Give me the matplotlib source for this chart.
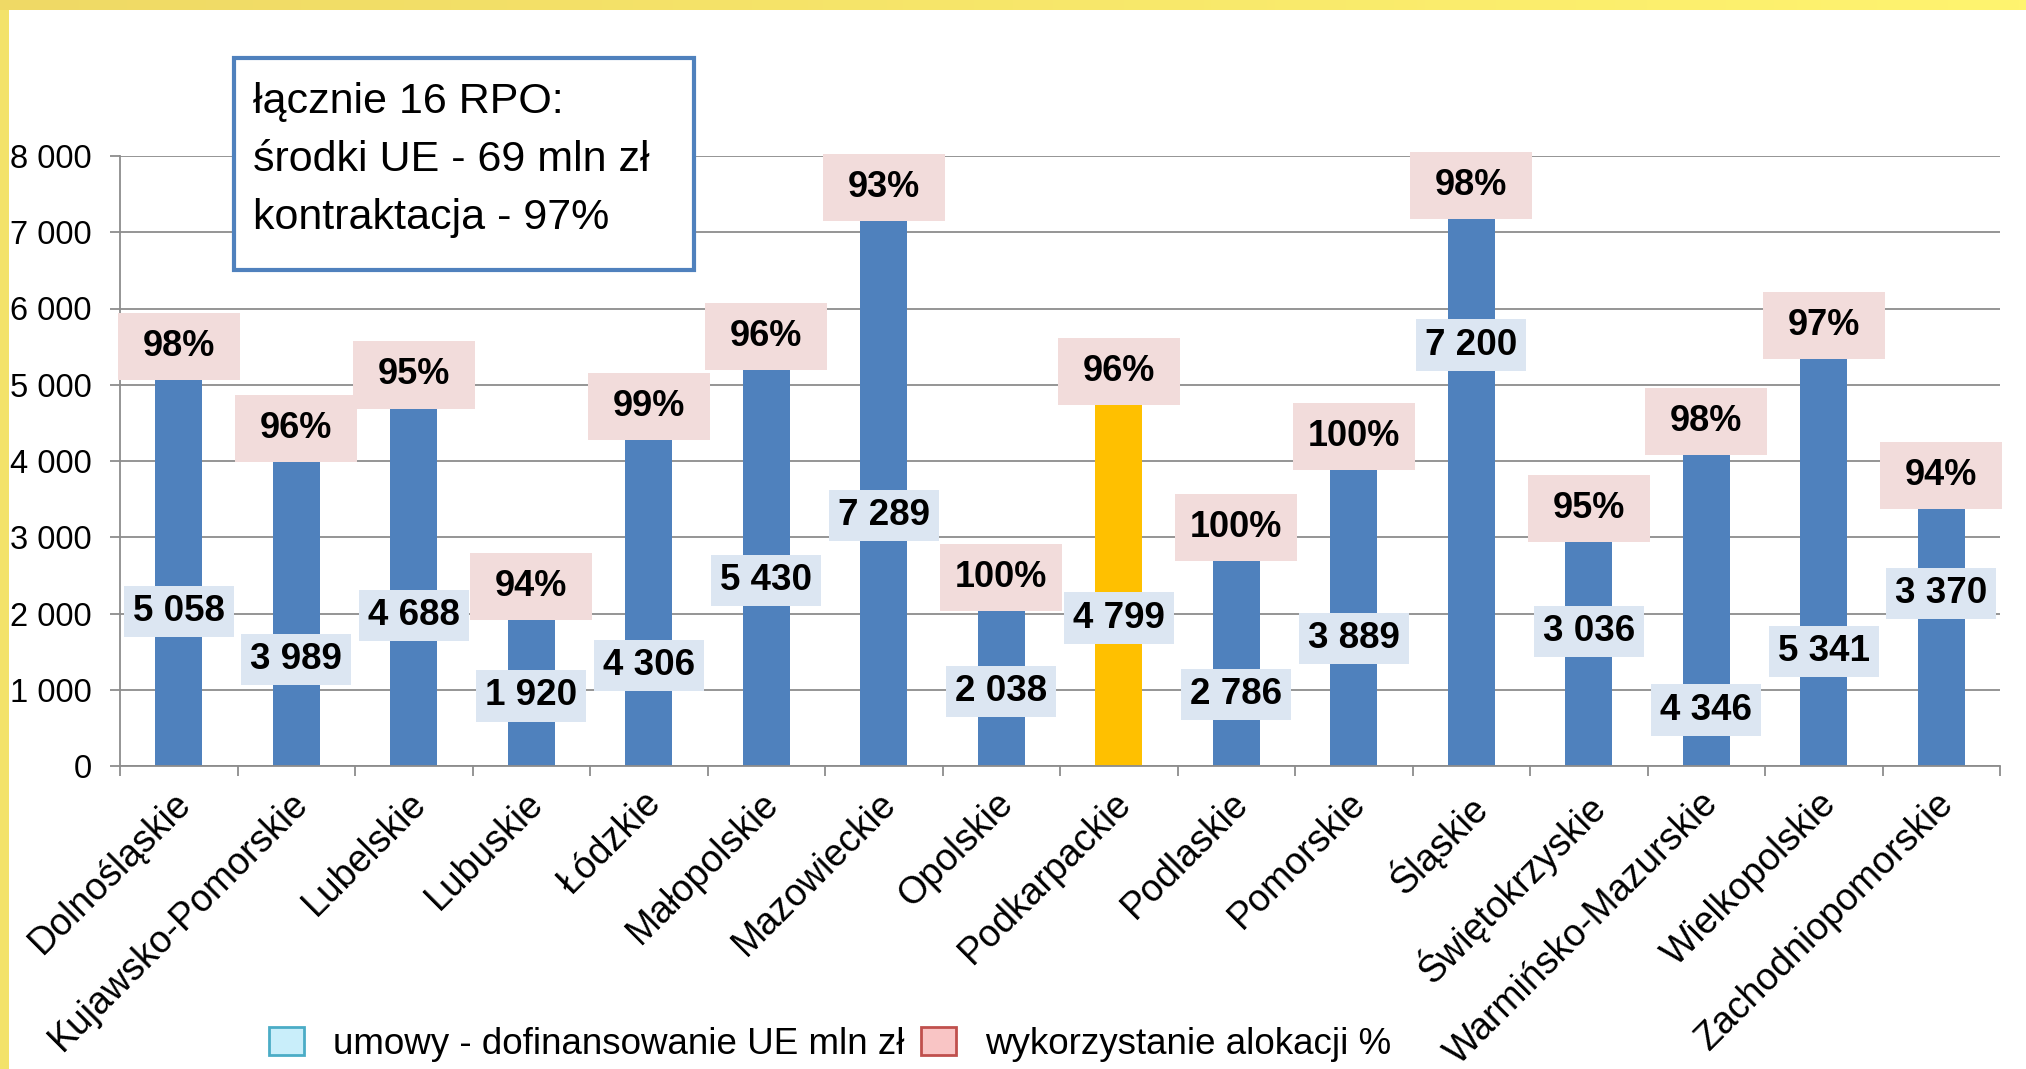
import numpy as np
import matplotlib
matplotlib.use("Agg")
import matplotlib.pyplot as plt
import matplotlib.transforms as mtransforms
from matplotlib.patches import Rectangle, Patch
from matplotlib.colors import LinearSegmentedColormap
from matplotlib.ticker import FuncFormatter

plt.rcParams['font.family'] = ['Liberation Sans', 'DejaVu Sans']

# --- data ---
regions = ["Dolnośląskie", "Kujawsko-Pomorskie", "Lubelskie", "Lubuskie", "Łódzkie",
           "Małopolskie", "Mazowieckie", "Opolskie", "Podkarpackie", "Podlaskie",
           "Pomorskie", "Śląskie", "Świętokrzyskie", "Warmińsko-Mazurskie",
           "Wielkopolskie", "Zachodniopomorskie"]

# bar heights as drawn on the chart (mln zł)
umowy = [5058, 3989, 4688, 1913, 4271, 5188, 7144, 2035, 4734, 2690,
         3887, 7170, 2937, 4079, 5342, 3368]

# value labels as typed on the chart
umowy_labels = ["5 058", "3 989", "4 688", "1 920", "4 306", "5 430", "7 289", "2 038",
                "4 799", "2 786", "3 889", "7 200", "3 036", "4 346", "5 341", "3 370"]

# wykorzystanie alokacji %
alokacja = [98, 96, 95, 94, 99, 96, 93, 100, 96, 100, 100, 98, 95, 98, 97, 94]

highlight = "Podkarpackie"

# where each value label sits, as a share of its bar height
label_pos = [0.40, 0.35, 0.42, 0.48, 0.31, 0.47, 0.46, 0.48, 0.41, 0.35,
             0.43, 0.77, 0.60, 0.18, 0.28, 0.67]

summary = ["łącznie 16 RPO:", "środki UE - 69 mln zł", "kontraktacja - 97%"]
legend_labels = ["umowy - dofinansowanie UE mln zł", "wykorzystanie alokacji %"]

# --- figure ---
W, H = 2026, 1069
fig = plt.figure(figsize=(W / 100, H / 100), dpi=100)
ax = fig.add_axes([120 / W, 1 - 766 / H, 1880 / W, 610 / H])

x = np.arange(len(regions))
colors = ['#FFC000' if r == highlight else '#4F81BD' for r in regions]
ax.bar(x, umowy, width=0.4, color=colors, zorder=2)

# pink boxes with percentages sitting on top of the bars
pct_h = 880
pct_boxes = ax.bar(x, pct_h, bottom=umowy, width=1.04, color='#F2DCDB', zorder=3)
for p in pct_boxes:
    p.set_clip_on(False)
for xi, top, a in zip(x, umowy, alokacja):
    ax.text(xi, top + pct_h / 2, f"{a}%", ha='center', va='center',
            fontsize=26, fontweight='bold', zorder=5, clip_on=False)

# light blue boxes with the contract values
lab_y = np.array(umowy) * np.array(label_pos)
val_h = 670
ax.bar(x, val_h, bottom=lab_y - val_h / 2, width=0.94, color='#DCE6F2', zorder=3)
for xi, yi, s in zip(x, lab_y, umowy_labels):
    ax.text(xi, yi, s, ha='center', va='center', fontsize=26.5, fontweight='bold', zorder=5)

# axes styling
grey = '#8C8C8C'
ax.set_xlim(-0.5, len(regions) - 0.5)
ax.set_ylim(0, 8000)
ax.set_yticks(range(0, 8001, 1000))
ax.yaxis.set_major_formatter(FuncFormatter(lambda v, p: f"{int(v):,}".replace(",", " ")))
ax.grid(axis='y', color=grey, lw=1.3)
ax.set_axisbelow(True)
for s in ['top', 'right']:
    ax.spines[s].set_visible(False)
for s in ['left', 'bottom']:
    ax.spines[s].set_color(grey)
    ax.spines[s].set_linewidth(1.3)
ax.tick_params(axis='y', length=7.2, width=1.3, color=grey, pad=13, labelsize=23.5)

ax.set_xticks(x)
ax.set_xticklabels(regions, rotation=45, ha='right', rotation_mode='anchor', fontsize=27)
ax.tick_params(axis='x', which='major', length=0, pad=14)
ax.set_xticks(np.arange(-0.5, len(regions), 1), minor=True)
ax.tick_params(axis='x', which='minor', length=7.2, width=1.3, color=grey)
shift = mtransforms.ScaledTranslation(-6 / 100, 0, fig.dpi_scale_trans)
for lbl in ax.get_xticklabels():
    lbl.set_transform(lbl.get_transform() + shift)

# summary box
fig.add_artist(Rectangle((234 / W, 1 - 270 / H), 460 / W, 212 / H, transform=fig.transFigure,
                         fc='white', ec='#4F81BD', lw=3, zorder=5))
for line, yy in zip(summary, [102, 160, 218]):
    fig.text(253 / W, 1 - yy / H, line, fontsize=31, va='center', zorder=6)

# legend
handles = [Patch(fc='#C9EEFA', ec='#4BACC6', lw=2), Patch(fc='#F9C5C5', ec='#C0504D', lw=2)]
fig.legend(handles, legend_labels, loc='center', bbox_to_anchor=(830 / W, 1 - 1044 / H),
           ncol=2, frameon=False, fontsize=26.5, handlelength=0.95, handleheight=0.78,
           handletextpad=0.8, columnspacing=0.45)

# yellow frame of the slide
cmap = LinearSegmentedColormap.from_list('band', ['#EFD965', '#FFF46F'])
top = fig.add_axes([0, 1 - 10 / H, 1, 10 / H])
top.imshow(np.linspace(0, 1, 256).reshape(1, -1), cmap=cmap, aspect='auto')
top.axis('off')
left = fig.add_axes([0, 0, 9 / W, 1 - 10 / H])
left.set_facecolor('#F3E26A')
left.set_xticks([])
left.set_yticks([])
for s in left.spines.values():
    s.set_visible(False)

fig.savefig('out.png', dpi=100)
